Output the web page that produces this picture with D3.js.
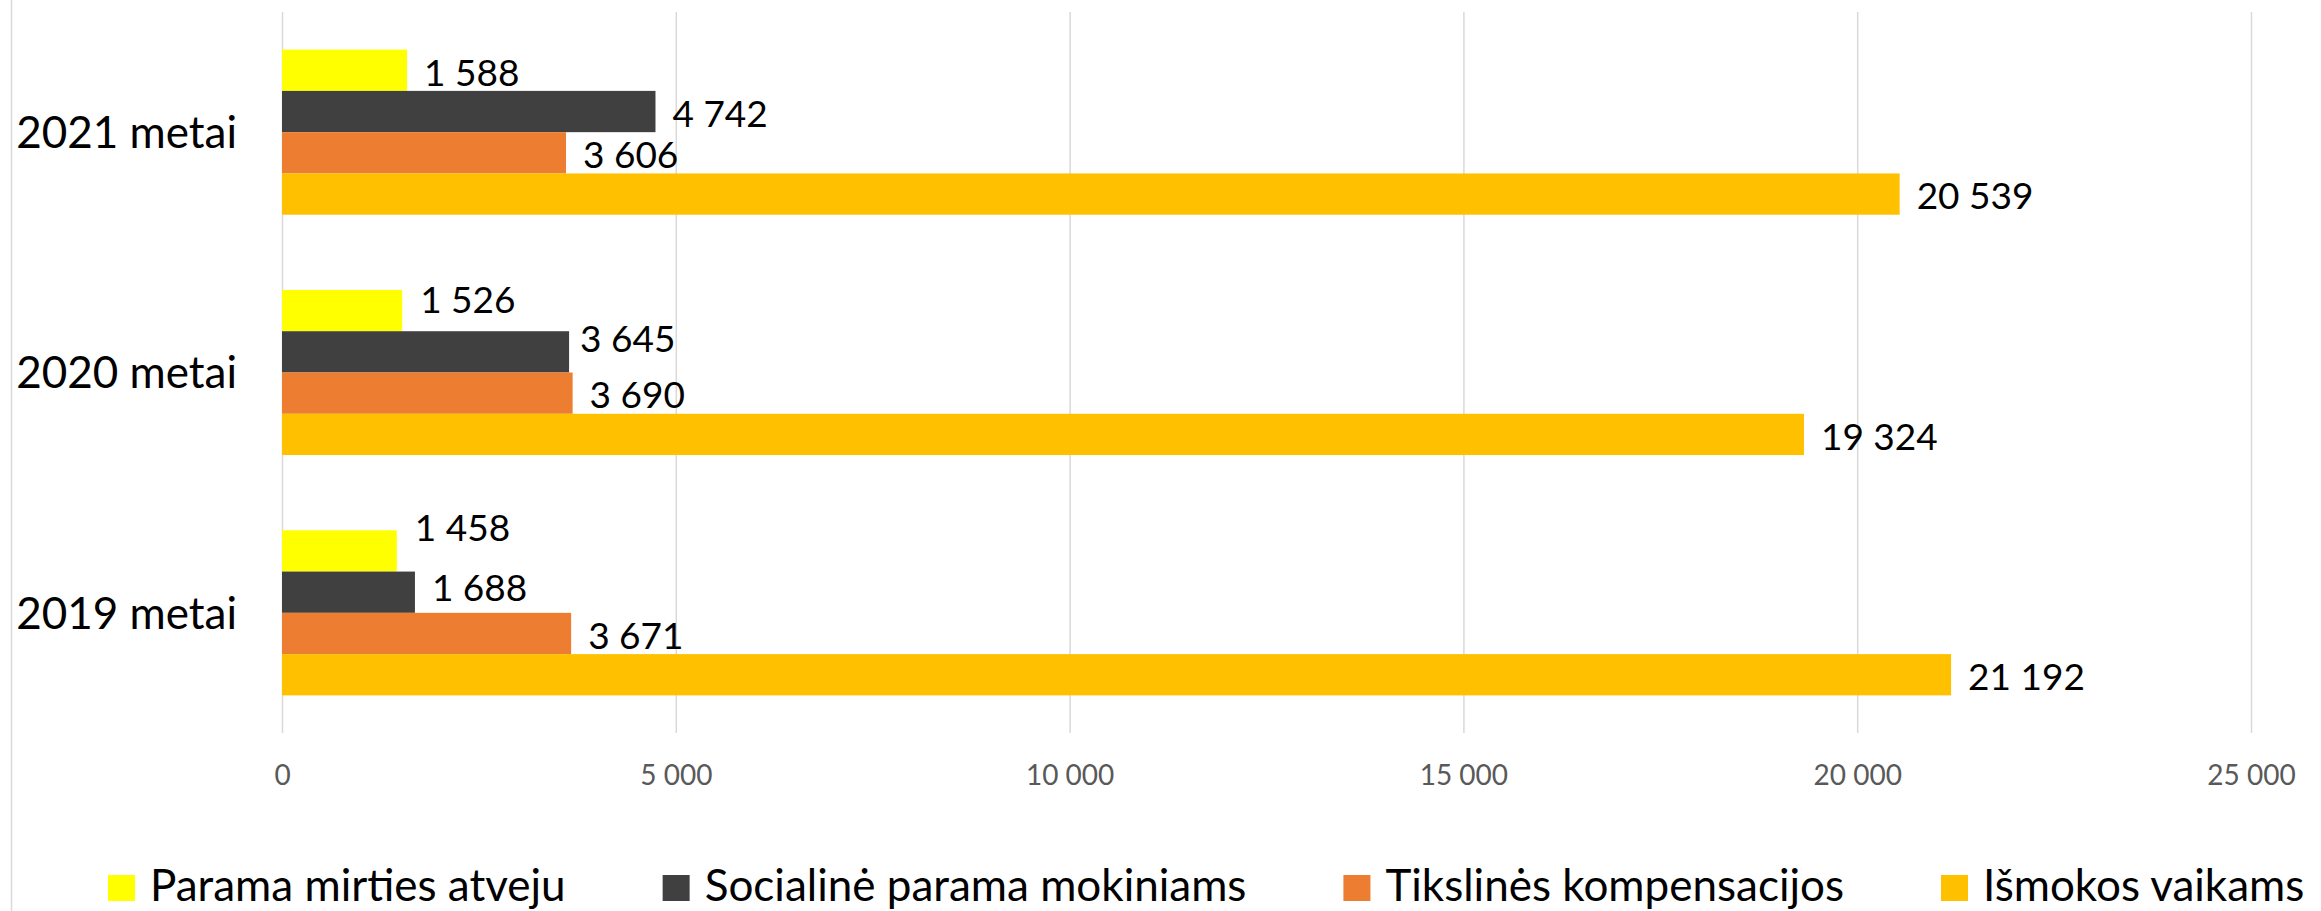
<!DOCTYPE html>
<html>
<head>
<meta charset="utf-8">
<script src="https://cdn.jsdelivr.net/npm/d3@7"></script>
<style>
  html, body { margin: 0; padding: 0; background: #fff; }
  svg { display: block; font-family: Lato, "Open Sans", sans-serif; }
</style>
</head>
<body>
<svg id="chart" width="2321" height="911"></svg>
<script>
// Categories (top to bottom) and series
const categories = ["2021 metai", "2020 metai", "2019 metai"];
const seriesNames = ["Parama mirties atveju", "Socialinė parama mokiniams", "Tikslinės kompensacijos", "Išmokos vaikams"];
const seriesColors = ["#FFFF00", "#404040", "#ED7D31", "#FFC000"];

// Values per category, same order as categories
const paramaMirtiesAtveju = [1588, 1526, 1458];
const socialineParamaMokiniams = [4742, 3645, 1688];
const tikslinesKompensacijos = [3606, 3690, 3671];
const ismokosVaikams = [20539, 19324, 21192];

const xTickValues = [0, 5000, 10000, 15000, 20000, 25000];

const seriesValues = [paramaMirtiesAtveju, socialineParamaMokiniams, tikslinesKompensacijos, ismokosVaikams];

// Hand-placed data labels that were moved off their default spot: [dx, dy] in px
const labelNudge = {
  "2020 metai|Parama mirties atveju": [1, -13],
  "2020 metai|Socialinė parama mokiniams": [-6, -15],
  "2019 metai|Parama mirties atveju": [1, -25],
  "2019 metai|Socialinė parama mokiniams": [0, -7]
};

const locale = d3.formatLocale({ decimal: ",", thousands: " ", grouping: [3], currency: ["", " €"] });
const fmt = locale.format(",");

const svg = d3.select("#chart");
const W = 2321, H = 911;
const plot = { left: 282, right: 2251, top: 12, bottom: 733 };

// Outer frame line on the left
svg.append("line")
  .attr("x1", 11.5).attr("x2", 11.5).attr("y1", 0).attr("y2", H)
  .attr("stroke", "#d9d9d9").attr("stroke-width", 1.5);

const x = d3.scaleLinear().domain([0, 25000]).range([plot.left, plot.right]);
const y = d3.scaleBand().domain(categories).range([plot.top, plot.bottom])
  .paddingInner(0.313).paddingOuter(0.1565);
const ySub = d3.scaleBand().domain(seriesNames).range([0, y.bandwidth()]);

// Vertical gridlines + value tick labels
const xAxis = svg.append("g")
  .attr("transform", `translate(0,${plot.bottom})`)
  .call(d3.axisBottom(x).tickValues(xTickValues).tickFormat(fmt)
    .tickSize(-(plot.bottom - plot.top)).tickPadding(32));
xAxis.select(".domain").remove();
xAxis.selectAll(".tick line").attr("stroke", "#d9d9d9").attr("stroke-width", 1.5);
xAxis.selectAll(".tick text").attr("fill", "#595959").attr("font-size", 28)
  .attr("font-family", "Lato, sans-serif");

// Category labels
const yAxis = svg.append("g")
  .attr("transform", `translate(${plot.left},0)`)
  .call(d3.axisLeft(y).tickSize(0).tickPadding(45));
yAxis.select(".domain").remove();
yAxis.selectAll(".tick text").attr("fill", "#000").attr("font-size", 44)
  .attr("font-family", "Lato, sans-serif").attr("dy", "0.36em");

// Bars
const rows = [];
categories.forEach((c, ci) => {
  seriesNames.forEach((s, si) => {
    rows.push({ cat: c, series: s, color: seriesColors[si], value: seriesValues[si][ci] });
  });
});

const bars = svg.append("g");
bars.selectAll("rect").data(rows).join("rect")
  .attr("x", x(0))
  .attr("y", d => y(d.cat) + ySub(d.series))
  .attr("width", d => x(d.value) - x(0))
  .attr("height", ySub.bandwidth())
  .attr("fill", d => d.color);

// Value labels
const nudge = d => labelNudge[d.cat + "|" + d.series] || [0, 0];
svg.append("g").selectAll("text").data(rows).join("text")
  .attr("x", d => x(d.value) + 17 + nudge(d)[0])
  .attr("y", d => y(d.cat) + ySub(d.series) + ySub.bandwidth() / 2 + 2 + nudge(d)[1])
  .attr("dy", "0.36em")
  .attr("font-size", 37)
  .attr("fill", "#000")
  .text(d => fmt(d.value));

// Legend, laid out left to right
const legend = svg.append("g");
const items = legend.selectAll("g").data(seriesNames).join("g");
items.append("rect")
  .attr("width", 27).attr("height", 26).attr("y", 875)
  .attr("fill", (d, i) => seriesColors[i]);
items.append("text")
  .attr("x", 42).attr("y", 901)
  .attr("font-size", 44).attr("fill", "#000")
  .text(d => d);
const widths = [];
items.each(function () {
  const tw = d3.select(this).select("text").node().getComputedTextLength();
  widths.push(42 + tw);
});
const gap = 97;
let cx = 108;
items.attr("transform", (d, i) => {
  const t = `translate(${cx},0)`;
  cx += widths[i] + gap;
  return t;
});
</script>
</body>
</html>
